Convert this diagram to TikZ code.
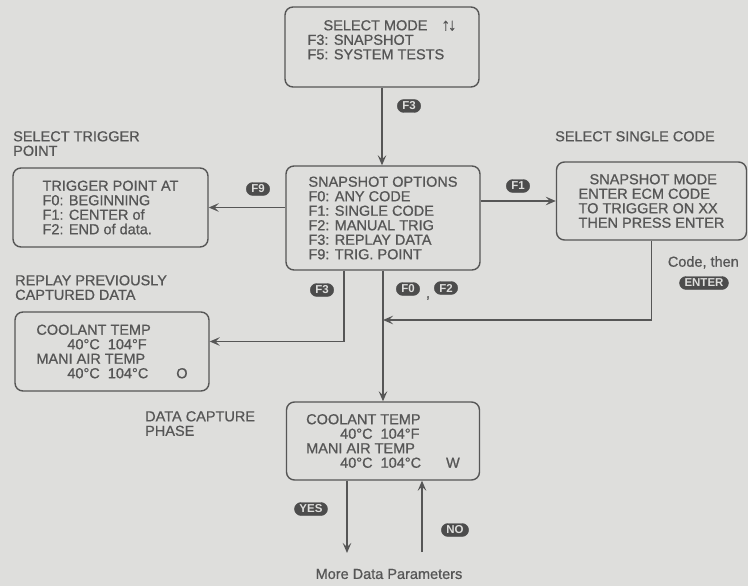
\documentclass[tikz,border=0pt]{standalone}
\usepackage{fontspec}
\setmainfont{Liberation Sans}
\newfontfamily\inkfamily[FakeBold=0.8]{Liberation Sans}
\usetikzlibrary{arrows.meta,positioning}
\definecolor{paper}{RGB}{222,222,220}
\definecolor{ink}{RGB}{86,86,86}
\definecolor{keyfill}{RGB}{76,76,76}
\newcommand{\scrfont}{\inkfamily\fontsize{14.5}{14.5}\selectfont}

\begin{document}
\begin{tikzpicture}[
    x=1pt, y=-1pt,
    >={Stealth[length=10pt, width=8.5pt, inset=4pt]},
    screen/.style={draw=ink, line width=1.4pt, rounded corners=8pt,
       text=ink, align=left, font=\scrfont},
    key/.style={fill=keyfill, draw=keyfill, rounded corners=6.5pt, text=paper,
       font=\fontsize{11.5}{11.5}\selectfont\bfseries, inner xsep=5pt,
       inner ysep=1pt, minimum height=13pt},
    caption/.style={text=ink, align=left, font=\scrfont, inner sep=0pt,
       anchor=north west},
    flow/.style={draw=ink, line width=1.3pt, ->}
  ]
    % Paper
    \fill[paper] (0,0) rectangle (748,586);
    \useasboundingbox (0,0) rectangle (748,586);

    % Screens
    \node[screen, minimum width=194pt, minimum height=80pt] (mode) at (382,47)
      {\hspace*{16pt}SELECT MODE\hspace{14pt}{\fontsize{17}{14}\selectfont ↑\kern-2pt↓}\\
       F3: SNAPSHOT\\ F5: SYSTEM TESTS\\ \mbox{}};
    \node[screen, minimum width=194pt, minimum height=104pt] (opts) at (383,218)
      {SNAPSHOT OPTIONS\\ F0: ANY CODE\\ F1: SINGLE CODE\\ F2: MANUAL TRIG\\
       F3: REPLAY DATA\\ F9: TRIG. POINT};
    \node[screen, minimum width=195pt, minimum height=79pt] (trig) at (110.5,207.5)
      {TRIGGER POINT AT\\ F0: BEGINNING\\ F1: CENTER of\\ F2: END of data.};
    \node[screen, minimum width=190pt, minimum height=78pt] (single) at (651.5,201)
      {\hspace*{11pt}SNAPSHOT MODE\\ ENTER ECM CODE\\ TO TRIGGER ON XX\\
       THEN PRESS ENTER};
    \node[screen, minimum width=194pt, minimum height=79pt] (replay) at (112,351.5)
      {COOLANT TEMP\\ \hspace*{31pt}40°C\ \ 104°F\\ MANI AIR TEMP\\
       \hspace*{31pt}40°C\ \ 104°C\hspace{28pt}O};
    \node[screen, minimum width=193pt, minimum height=78pt] (capture) at (383,441)
      {COOLANT TEMP\\ \hspace*{34pt}40°C\ \ 104°F\\ MANI AIR TEMP\\
       \hspace*{34pt}40°C\ \ 104°C\hspace{25pt}W};

    % Captions
    \node[caption] (trigcap) at (13,131) {SELECT TRIGGER\\POINT};
    \node[caption] (singlecap) at (555,131) {SELECT SINGLE CODE};
    \node[caption] (replaycap) at (15,275) {REPLAY PREVIOUSLY\\CAPTURED DATA};
    \node[caption] (capturecap) at (145,411) {DATA CAPTURE\\PHASE};
    \node[caption, anchor=north east] (codecap) at (739,256) {Code, then};
    \node[text=ink, font=\scrfont] (more) at (389,574) {More Data Parameters};

    % Keys
    \node[key] (keyF3a) at (409,106) {F3};
    \node[key] (keyF9) at (258,189) {F9};
    \node[key] (keyF1) at (518,186) {F1};
    \node[key] (keyF3b) at (322,290) {F3};
    \node[key] (keyF0) at (408,289) {F0};
    \node[text=ink, font=\scrfont] (comma) at (428,298) {,};
    \node[key] (keyF2) at (446,288) {F2};
    \node[key] (keyENTER) at (704,283) {ENTER};
    \node[key] (keyYES) at (311,509) {YES};
    \node[key] (keyNO) at (455,530) {NO};

    % Connectors
    \coordinate (merge) at (383,320);
    \coordinate (yesend) at (347,553);
    \coordinate (nostart) at (422,552);
    \draw[flow] (mode.south) -- (mode.south |- opts.north);
    \draw[flow] (trig.east -| opts.west) -- (trig.east);
    \draw[flow] (single.west -| opts.east) -- (single.west);
    \draw[flow] (single.south) |- (merge);
    \draw[flow] (opts.south) -- (capture.north);
    \draw[flow] ([xshift=-39pt]opts.south) |- ([yshift=10pt]replay.east);
    \draw[flow] (capture.south -| yesend) -- (yesend);
    \draw[flow] (nostart) -- (capture.south -| nostart);
  \end{tikzpicture}
\end{document}
